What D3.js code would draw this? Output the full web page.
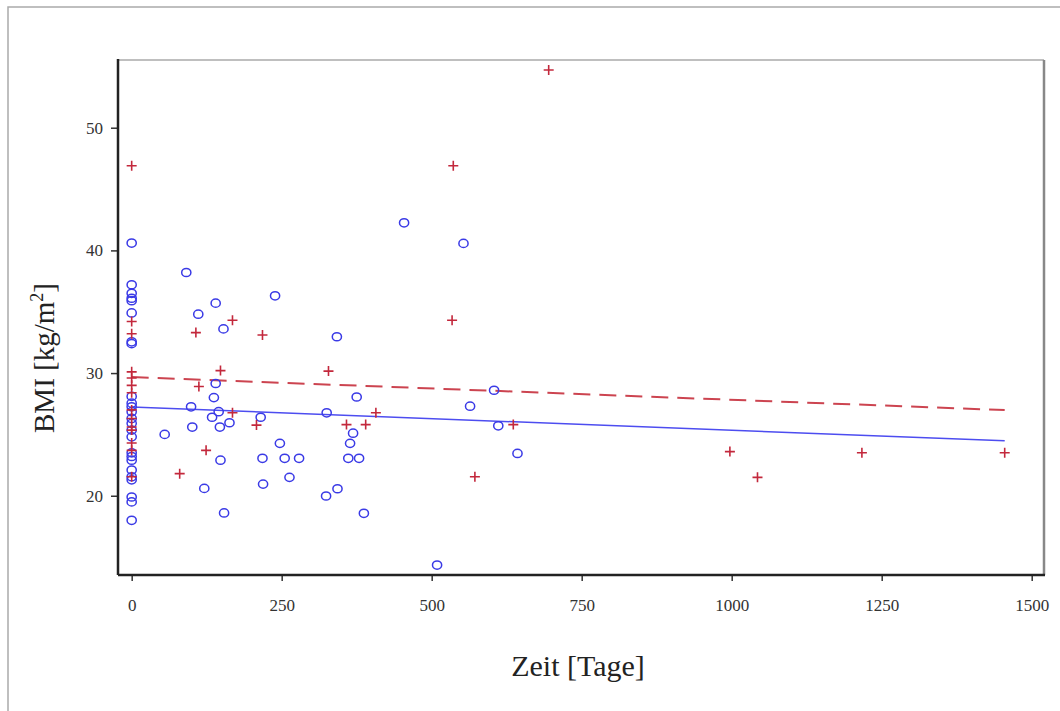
<!DOCTYPE html>
<meta charset="utf-8">
<style>
body { margin: 0; background: #fff; }
svg { display: block; }
.tick text { font-family: "Liberation Serif", "DejaVu Serif", serif; font-size: 17px; fill: #333; }
.title { font-family: "Liberation Serif", "DejaVu Serif", serif; fill: #222; }
</style>
<svg width="1060" height="711"></svg>
<script src="https://d3js.org/d3.v7.min.js"></script>
<script>
// blue group (circles): [Zeit, BMI]
var blueDays = [0,0,0,0,0,0,0,0,0,0,0,0,0,0,0,0,0,0,0,0,0,0,0,0,0,
  91,140,111,153,140,137,99,145,134,147,163,101,55,148,121,154,
  239,342,375,215,325,369,364,247,218,255,279,361,379,219,263,324,343,387,
  454,553,604,564,611,643,509];
var blueBMI = [40.6,37.2,36.5,36.1,35.9,34.9,32.55,32.4,28.1,27.55,27.25,26.85,26.3,25.9,25.35,24.8,23.5,23.2,22.9,22.1,21.55,21.3,19.9,19.5,18.0,
  38.2,35.7,34.8,33.6,29.15,28.0,27.25,26.85,26.4,25.6,25.95,25.6,25.0,22.9,20.6,18.6,
  36.3,32.96,28.05,26.4,26.76,25.1,24.27,24.27,23.05,23.05,23.05,23.05,23.05,20.95,21.5,19.98,20.57,18.57,
  42.25,40.57,28.6,27.3,25.7,23.45,14.35];

// red group (plus): [Zeit, BMI]
var redDays = [0,0,0,0,0,0,0,0,0,0,0,0,0,0,
  168,107,148,112,168,124,80,
  218,328,208,407,358,390,
  536,534,636,572,695,
  997,1043,1217,1455];
var redBMI = [46.9,34.2,33.2,30.1,29.6,29.0,28.4,27.0,26.3,25.6,25.35,24.3,23.7,21.55,
  34.3,33.3,30.2,28.9,26.76,23.7,21.8,
  33.1,30.16,25.76,26.76,25.8,25.8,
  46.9,34.3,25.8,21.55,54.7,
  23.6,21.5,23.5,23.5];

// fitted regression lines (endpoints)
var blueFitDays = [0, 1455], blueFitBMI = [27.23, 24.48];
var redFitDays = [0, 1455], redFitBMI = [29.67, 26.98];

var xTicks = [0, 250, 500, 750, 1000, 1250, 1500];
var yTicks = [20, 30, 40, 50];

var svg = d3.select("svg");
var pLeft = 118, pRight = 1044, pTop = 60, pBottom = 575;

var x = d3.scaleLinear().domain([-22.8, 1520.5]).range([pLeft, pRight]);
var y = d3.scaleLinear().domain([13.54, 55.52]).range([pBottom, pTop]);

// outer frame
svg.append("path")
  .attr("d", "M8,711V7H1060")
  .attr("fill", "none").attr("stroke", "#aaa").attr("stroke-width", 1.5);

// frame top/right (grey)
svg.append("line").attr("x1", pLeft).attr("x2", pRight).attr("y1", pTop).attr("y2", pTop)
  .attr("stroke", "#aaa").attr("stroke-width", 1.5);
svg.append("line").attr("x1", pRight).attr("x2", pRight).attr("y1", pTop).attr("y2", pBottom)
  .attr("stroke", "#888").attr("stroke-width", 2.5);

// axes
var xAxis = svg.append("g")
  .attr("transform", "translate(0," + pBottom + ")")
  .call(d3.axisBottom(x).tickValues(xTicks).tickSize(6).tickPadding(18).tickFormat(d3.format("d")));
var yAxis = svg.append("g")
  .attr("transform", "translate(" + pLeft + ",0)")
  .call(d3.axisLeft(y).tickValues(yTicks).tickSize(7).tickPadding(8).tickFormat(d3.format("d")));

[xAxis, yAxis].forEach(function(g) {
  g.select(".domain").remove();
  g.selectAll(".tick line").attr("stroke", "#333").attr("stroke-width", 1.5);
});

svg.append("line").attr("x1", pLeft).attr("x2", pRight + 1).attr("y1", pBottom).attr("y2", pBottom)
  .attr("stroke", "#222").attr("stroke-width", 2.5);
svg.append("line").attr("x1", pLeft).attr("x2", pLeft).attr("y1", pTop - 1).attr("y2", pBottom)
  .attr("stroke", "#222").attr("stroke-width", 2.5);

// regression lines
var line = d3.line().x(function(d) { return x(d[0]); }).y(function(d) { return y(d[1]); });
svg.append("path")
  .datum(redFitDays.map(function(d, i) { return [d, redFitBMI[i]]; }))
  .attr("d", line).attr("fill", "none")
  .attr("stroke", "#cc4450").attr("stroke-width", 2).attr("stroke-dasharray", "17,9");
svg.append("path")
  .datum(blueFitDays.map(function(d, i) { return [d, blueFitBMI[i]]; }))
  .attr("d", line).attr("fill", "none")
  .attr("stroke", "#4d4df0").attr("stroke-width", 1.5);

// blue circles
svg.append("g").selectAll("ellipse")
  .data(blueDays.map(function(d, i) { return [d, blueBMI[i]]; }))
  .enter().append("ellipse")
  .attr("cx", function(d) { return x(d[0]); })
  .attr("cy", function(d) { return y(d[1]); })
  .attr("rx", 4.6).attr("ry", 4.1)
  .attr("fill", "none").attr("stroke", "#3a3ae6").attr("stroke-width", 1.5);

// red plus
svg.append("g").selectAll("path")
  .data(redDays.map(function(d, i) { return [d, redBMI[i]]; }))
  .enter().append("path")
  .attr("d", function(d) {
    var cx = x(d[0]), cy = y(d[1]);
    return "M" + (cx - 5) + "," + cy + "H" + (cx + 5) + "M" + cx + "," + (cy - 5) + "V" + (cy + 5);
  })
  .attr("stroke", "#c3283c").attr("stroke-width", 1.6);

// axis titles
svg.append("text").attr("class", "title")
  .attr("x", 578).attr("y", 676).attr("text-anchor", "middle")
  .style("font-size", "30px").text("Zeit [Tage]");

var yl = svg.append("text").attr("class", "title")
  .attr("transform", "translate(54,358) rotate(-90)")
  .attr("text-anchor", "middle").style("font-size", "29px");
yl.append("tspan").text("BMI [kg/m");
yl.append("tspan").attr("dy", -11).style("font-size", "18px").text("2");
yl.append("tspan").attr("dy", 11).text("]");
</script>
